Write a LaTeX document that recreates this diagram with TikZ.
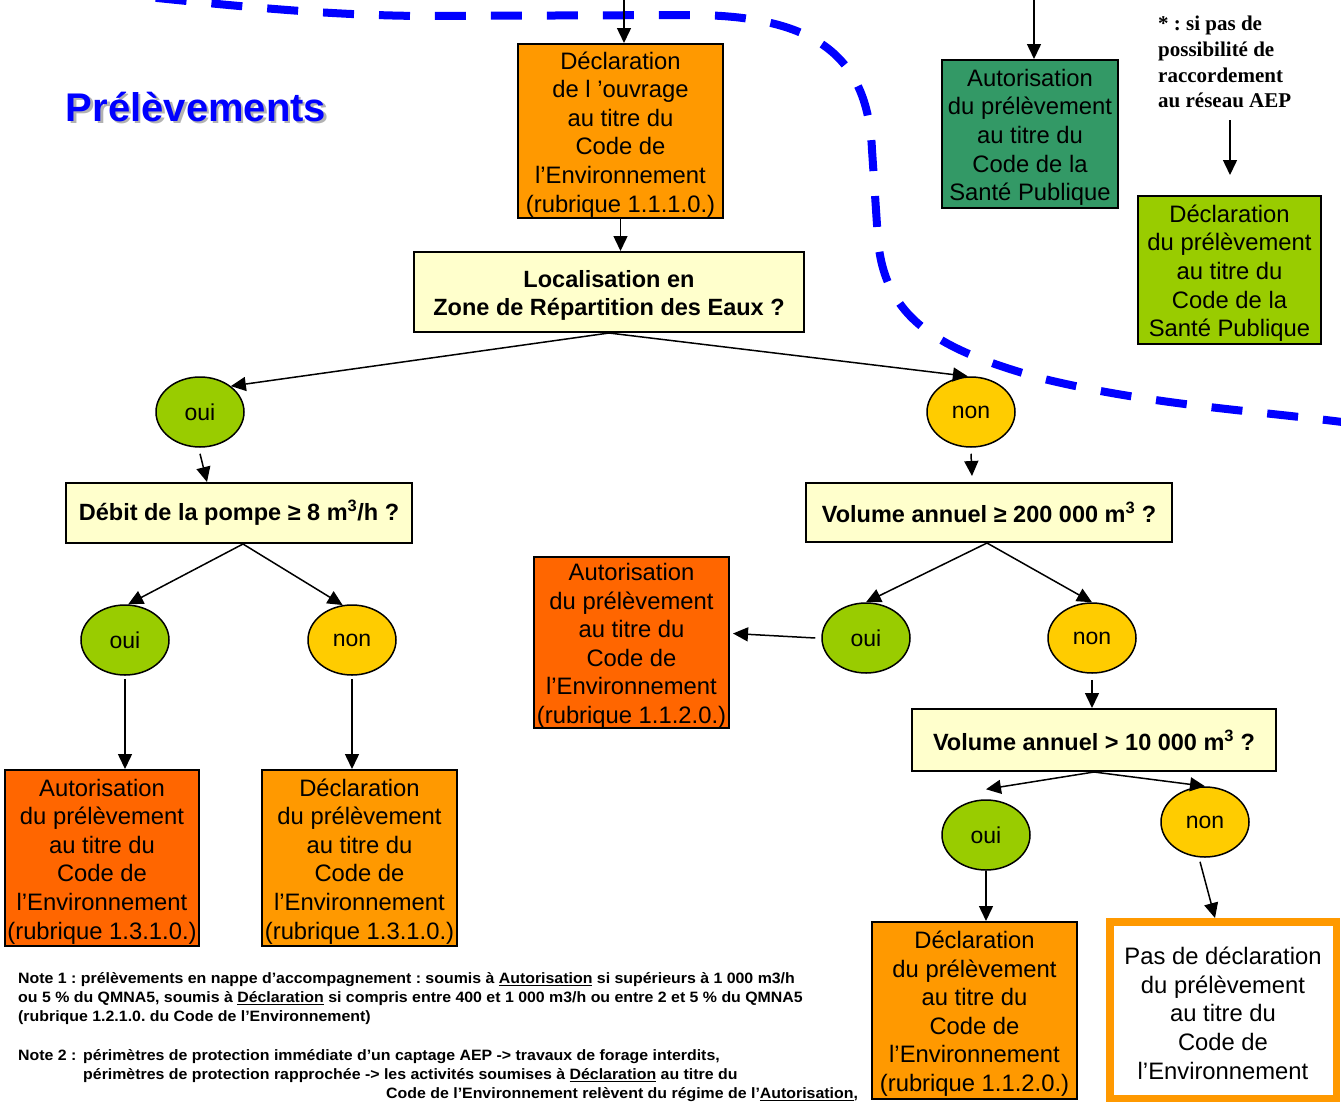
\documentclass[tikz,border=0pt]{standalone}
\usepackage{fontspec}
\setmainfont{Liberation Sans}
\newfontfamily\serifbold{Liberation Serif}
\newfontfamily\notefont[FakeStretch=1.06]{Liberation Sans}
\usetikzlibrary{arrows.meta,shapes.geometric}
\definecolor{orangeA}{HTML}{FF9900}
\definecolor{orangeR}{HTML}{FF6600}
\definecolor{greenD}{HTML}{339966}
\definecolor{greenL}{HTML}{99CC00}
\definecolor{yellowO}{HTML}{FFCC00}
\definecolor{yellowL}{HTML}{FFFFCC}
\definecolor{blueT}{HTML}{0000FF}
\frenchspacing
\begin{document}
\begin{tikzpicture}[x=1pt,y=-1pt,
  box/.style={draw=black, line width=2pt, inner sep=0pt, align=center, font=\fontsize{23.8}{28.6}\selectfont},
  qbox/.style={draw=black, line width=2pt, fill=yellowL, inner sep=0pt, align=center, font=\bfseries\fontsize{23.5}{28}\selectfont},
  oval/.style={ellipse, draw=black, line width=1.5pt, minimum width=88pt, minimum height=70pt, inner sep=0pt, font=\fontsize{23}{28}\selectfont},
  arr/.style={line width=1.5pt, -{Triangle[length=15pt,width=14pt]}},
  note/.style={anchor=mid west, inner sep=0pt, font=\notefont\bfseries\fontsize{15}{19}\selectfont},
  titlefont/.style={font=\bfseries\fontsize{40}{45}\selectfont}
]
\newcommand{\tstrut}{\rule{0pt}{24pt}}
\useasboundingbox (0,0) rectangle (1341,1103);

% blue dashed boundary
\draw[blueT, line width=8pt, dash pattern=on 31pt off 25pt]
  (100,-8) .. controls (250,8) and (330,15) .. (420,16) -- (690,15)
  .. controls (820,15) and (868,60) .. (872,150) -- (878,240)
  .. controls (885,320) and (940,350) .. (1040,378)
  .. controls (1150,405) and (1250,410) .. (1350,423);

% title
\node[titlefont, text=black!30] (titleshadow) at (198.5,109.5) {Prélèvements};
\node[titlefont, text=blueT] (title) at (196,107) {Prélèvements};

% top boxes
\node[box, fill=orangeA, minimum width=205pt, minimum height=174pt] (D1) at (620.5,131)
  {\tstrut Déclaration\\de l ’ouvrage\\au titre du\\Code de\\l’Environnement\\(rubrique 1.1.1.0.)};
\node[box, fill=greenD, minimum width=176pt, minimum height=148pt] (SP) at (1030,134)
  {\tstrut Autorisation\\du prélèvement\\au titre du\\Code de la\\Santé Publique};
\node[box, fill=greenL, minimum width=183pt, minimum height=148pt] (DP) at (1229.5,270)
  {\tstrut Déclaration\\du prélèvement\\au titre du\\Code de la\\Santé Publique};
\node[anchor=north west, inner sep=0pt, align=left, font=\serifbold\bfseries\fontsize{21}{25.7}\selectfont] (aep) at (1158,16)
  {* : si pas de\\possibilité de\\raccordement\\au réseau AEP};

\coordinate (t1) at (624,0);
\coordinate (t2) at (1034,0);
\coordinate (n1) at (1230,120);
\coordinate (n2) at (1230,175);
\draw[arr] (t1) -- (t1 |- D1.north);
\draw[arr] (t2) -- (t2 |- SP.north);
\draw[arr] (n1) -- (n2);

% question boxes
\node[qbox, minimum width=390pt, minimum height=80pt] (Loc) at (609,292)
  {\tstrut Localisation en\\Zone de Répartition des Eaux ?};
\node[qbox, minimum width=346pt, minimum height=60pt] (Debit) at (239,513)
  {Débit de la pompe ≥ 8 m\textsuperscript{3}/h ?};
\node[qbox, minimum width=366pt, minimum height=59pt] (Vol) at (989,512.5)
  {Volume annuel ≥ 200 000 m\textsuperscript{3} ?};
\node[qbox, minimum width=364pt, minimum height=62pt] (Vol2) at (1094,740)
  {Volume annuel > 10 000 m\textsuperscript{3} ?};

% ovals
\node[oval, fill=greenL] (oui1) at (200,412) {oui};
\node[oval, fill=yellowO] (non1) at (971,412) {non};
\node[oval, fill=greenL] (oui2) at (125,640) {oui};
\node[oval, fill=yellowO] (non2) at (352,640) {non};
\node[oval, fill=greenL] (oui3) at (866,638) {oui};
\node[oval, fill=yellowO] (non3) at (1092,638) {non};
\node[oval, fill=greenL] (oui4) at (986,835) {oui};
\node[oval, fill=yellowO] (non4) at (1205,822) {non};

% result boxes
\node[box, fill=orangeR, minimum width=195pt, minimum height=169pt] (A2) at (631.5,642.5)
  {\tstrut Autorisation\\du prélèvement\\au titre du\\Code de\\l’Environnement\\(rubrique 1.1.2.0.)};
\node[box, fill=orangeR, minimum width=194pt, minimum height=176pt] (A1) at (102,858)
  {\tstrut Autorisation\\du prélèvement\\au titre du\\Code de\\l’Environnement\\(rubrique 1.3.1.0.)};
\node[box, fill=orangeA, minimum width=195pt, minimum height=176pt] (D2) at (359.5,858)
  {\tstrut Déclaration\\du prélèvement\\au titre du\\Code de\\l’Environnement\\(rubrique 1.3.1.0.)};
\node[box, fill=orangeA, minimum width=205pt, minimum height=177pt] (D3) at (974.5,1010.5)
  {\tstrut Déclaration\\du prélèvement\\au titre du\\Code de\\l’Environnement\\(rubrique 1.1.2.0.)};
\node[box, draw=orangeA, fill=white, line width=7.5pt, minimum width=226.5pt, minimum height=176.5pt] (Pas) at (1223,1010)
  {\tstrut Pas de déclaration\\du prélèvement\\au titre du\\Code de\\l’Environnement};

% connectors
\draw[arr] (D1.south) -- (D1.south |- Loc.north);
\draw[arr] (Loc.south) -- (oui1.40);
\draw[arr] (Loc.south) -- (non1.95);
\draw[arr] ([yshift=-6pt]oui1.south) -- ([xshift=-32pt]Debit.north);
\draw[arr] ([yshift=-6pt]non1.south) -- ([xshift=-17pt,yshift=6pt]Vol.north);
\draw[arr] ([xshift=4pt]Debit.south) -- (oui2.85);
\draw[arr] ([xshift=4pt]Debit.south) -- (non2.105);
\draw[arr] ([yshift=-3pt]oui2.south) -- (oui2.south |- A1.north);
\draw[arr] ([yshift=-3pt]non2.south) -- (non2.south |- D2.north);
\draw[arr] ([xshift=-2pt]Vol.south) -- (oui3.north);
\draw[arr] ([xshift=-2pt]Vol.south) -- (non3.north);
\draw[arr] ([xshift=-6pt]oui3.west) -- ([xshift=3pt,yshift=9pt]A2.east);
\draw[arr] ([yshift=-6pt]non3.south) -- (non3.south |- Vol2.north);
\draw[arr] (Vol2.south) -- ([yshift=10pt]oui4.north);
\draw[arr] (Vol2.south) -- (non4.north);
\draw[arr] (oui4.south) -- (oui4.south |- D3.north);
\draw[arr] ([xshift=-5pt,yshift=-4pt]non4.south) -- ([xshift=-8pt]Pas.north);

% notes
\node[note] (n1a) at (18,980.5) {Note 1 : prélèvements en nappe d’accompagnement : soumis à \underline{Autorisation} si supérieurs à 1 000 m3/h};
\node[note] (n1b) at (18,999.5) {ou 5 \% du QMNA5, soumis à \underline{Déclaration} si compris entre 400 et 1 000 m3/h ou entre 2 et 5 \% du QMNA5};
\node[note] (n1c) at (18,1018.5) {(rubrique 1.2.1.0. du Code de l’Environnement)};
\node[note] (n2a) at (18,1057.5) {Note 2 :};
\node[note] (n2b) at (83,1057.5) {périmètres de protection immédiate d’un captage AEP -> travaux de forage interdits,};
\node[note] (n2c) at (83,1076.5) {périmètres de protection rapprochée -> les activités soumises à \underline{Déclaration} au titre du};
\node[note] (n2d) at (386,1095.5) {Code de l’Environnement relèvent du régime de l’\underline{Autorisation},};
\end{tikzpicture}
\end{document}
